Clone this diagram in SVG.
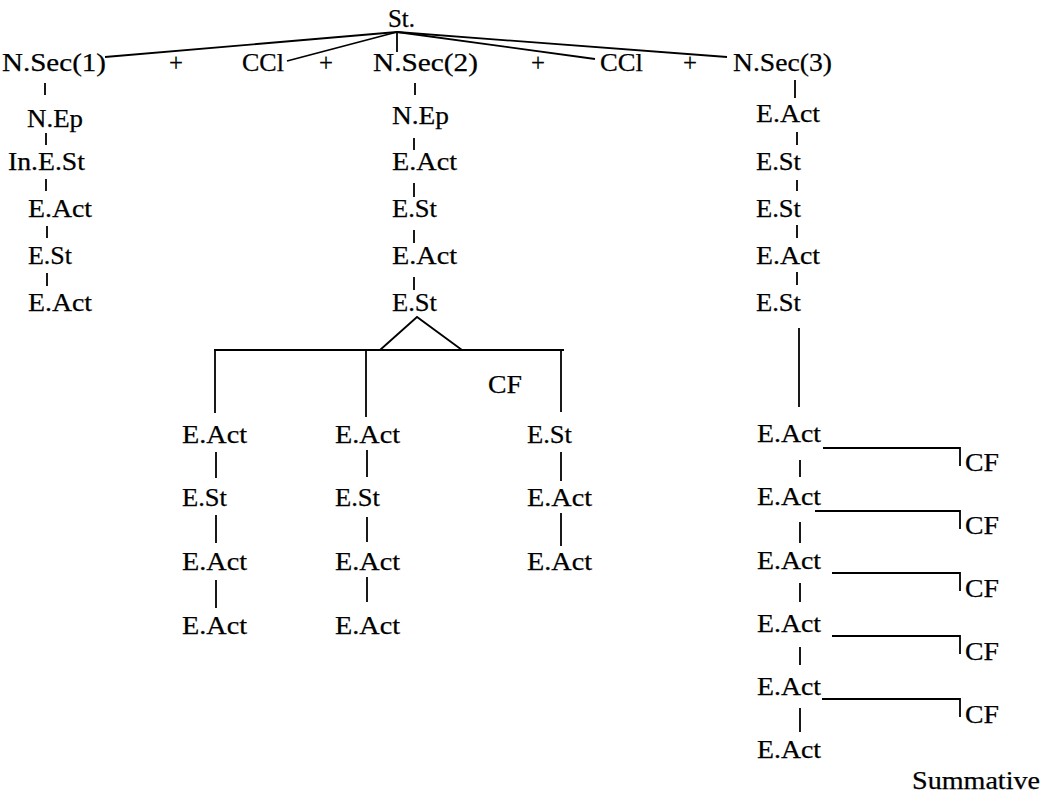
<svg xmlns="http://www.w3.org/2000/svg" width="1045" height="796" viewBox="0 0 1045 796">
<style>
.t{font-family:"Liberation Serif","Times New Roman",serif;font-size:26px;fill:#000;stroke:#000;stroke-width:0.25}
.c line,.c polyline{stroke:#000;stroke-width:1.8;fill:none}
</style>
<rect width="1045" height="796" fill="#fff"/>
<g class="c" id="connectors">
<line x1="397" y1="32" x2="105" y2="57"/>
<line x1="397" y1="32" x2="287" y2="61"/>
<line x1="397" y1="32" x2="397" y2="52"/>
<line x1="397" y1="32" x2="595" y2="59"/>
<line x1="397" y1="32" x2="727" y2="57"/>
<line x1="45" y1="83" x2="45" y2="95"/>
<line x1="415" y1="83" x2="415" y2="95"/>
<line x1="795" y1="80" x2="795" y2="98"/>
<line x1="46" y1="133" x2="46" y2="145"/>
<line x1="46" y1="179" x2="46" y2="191"/>
<line x1="47" y1="226" x2="47" y2="238"/>
<line x1="47" y1="273" x2="47" y2="286"/>
<line x1="414" y1="138" x2="414" y2="150"/>
<line x1="414" y1="183" x2="414" y2="197"/>
<line x1="414" y1="230" x2="414" y2="243"/>
<line x1="414" y1="277" x2="414" y2="290"/>
<line x1="797" y1="132" x2="797" y2="145"/>
<line x1="797" y1="180" x2="797" y2="191"/>
<line x1="797" y1="225" x2="797" y2="238"/>
<line x1="797" y1="272" x2="797" y2="285"/>
<line x1="799" y1="328" x2="799" y2="407"/>
<polyline points="380,350 417,317 462,350"/>
<line x1="214" y1="350" x2="564" y2="350"/>
<line x1="215" y1="350" x2="215" y2="413"/>
<line x1="366" y1="350" x2="366" y2="417"/>
<line x1="561" y1="350" x2="561" y2="412"/>
<line x1="216" y1="452" x2="216" y2="478"/>
<line x1="216" y1="515" x2="216" y2="543"/>
<line x1="216" y1="580" x2="216" y2="608"/>
<line x1="367" y1="450" x2="367" y2="477"/>
<line x1="367" y1="517" x2="367" y2="542"/>
<line x1="367" y1="577" x2="367" y2="602"/>
<line x1="561" y1="452" x2="561" y2="481"/>
<line x1="561" y1="513" x2="561" y2="546"/>
<line x1="800" y1="460" x2="800" y2="477"/>
<line x1="800" y1="522" x2="800" y2="543"/>
<line x1="800" y1="583" x2="800" y2="602"/>
<line x1="800" y1="647" x2="800" y2="665"/>
<line x1="800" y1="708" x2="800" y2="732"/>
<polyline points="823,448 960,448 960,466"/>
<polyline points="815,511 960,511 960,529"/>
<polyline points="832,573 960,573 960,591"/>
<polyline points="832,636 960,636 960,654"/>
<polyline points="822,699 960,699 960,717"/>
</g>
<g id="st"><text class="t" x="388" y="27" textLength="27" lengthAdjust="spacingAndGlyphs">St.</text></g>
<g id="nsec1"><text class="t" x="2" y="71" textLength="104" lengthAdjust="spacingAndGlyphs">N.Sec(1)</text></g>
<g id="plus1"><text class="t" x="169" y="71" textLength="14" lengthAdjust="spacingAndGlyphs">+</text></g>
<g id="ccl1"><text class="t" x="242" y="71" textLength="42" lengthAdjust="spacingAndGlyphs">CCl</text></g>
<g id="plus2"><text class="t" x="319" y="71" textLength="14" lengthAdjust="spacingAndGlyphs">+</text></g>
<g id="nsec2"><text class="t" x="373" y="71" textLength="105" lengthAdjust="spacingAndGlyphs">N.Sec(2)</text></g>
<g id="plus3"><text class="t" x="531" y="71" textLength="14" lengthAdjust="spacingAndGlyphs">+</text></g>
<g id="ccl2"><text class="t" x="600" y="71" textLength="43" lengthAdjust="spacingAndGlyphs">CCl</text></g>
<g id="plus4"><text class="t" x="683" y="71" textLength="14" lengthAdjust="spacingAndGlyphs">+</text></g>
<g id="nsec3"><text class="t" x="733" y="71" textLength="99" lengthAdjust="spacingAndGlyphs">N.Sec(3)</text></g>
<g id="c1n1"><text class="t" x="27" y="127" textLength="56" lengthAdjust="spacingAndGlyphs">N.Ep</text></g>
<g id="c1n2"><text class="t" x="8" y="170" textLength="77" lengthAdjust="spacingAndGlyphs">In.E.St</text></g>
<g id="c1n3"><text class="t" x="28" y="217" textLength="64" lengthAdjust="spacingAndGlyphs">E.Act</text></g>
<g id="c1n4"><text class="t" x="28" y="264" textLength="44" lengthAdjust="spacingAndGlyphs">E.St</text></g>
<g id="c1n5"><text class="t" x="28" y="311" textLength="64" lengthAdjust="spacingAndGlyphs">E.Act</text></g>
<g id="c2n1"><text class="t" x="392" y="124" textLength="57" lengthAdjust="spacingAndGlyphs">N.Ep</text></g>
<g id="c2n2"><text class="t" x="392" y="170" textLength="65" lengthAdjust="spacingAndGlyphs">E.Act</text></g>
<g id="c2n3"><text class="t" x="392" y="217" textLength="45" lengthAdjust="spacingAndGlyphs">E.St</text></g>
<g id="c2n4"><text class="t" x="392" y="264" textLength="65" lengthAdjust="spacingAndGlyphs">E.Act</text></g>
<g id="c2n5"><text class="t" x="392" y="311" textLength="45" lengthAdjust="spacingAndGlyphs">E.St</text></g>
<g id="c3n1"><text class="t" x="756" y="122" textLength="64" lengthAdjust="spacingAndGlyphs">E.Act</text></g>
<g id="c3n2"><text class="t" x="756" y="170" textLength="45" lengthAdjust="spacingAndGlyphs">E.St</text></g>
<g id="c3n3"><text class="t" x="756" y="217" textLength="45" lengthAdjust="spacingAndGlyphs">E.St</text></g>
<g id="c3n4"><text class="t" x="756" y="264" textLength="64" lengthAdjust="spacingAndGlyphs">E.Act</text></g>
<g id="c3n5"><text class="t" x="756" y="311" textLength="45" lengthAdjust="spacingAndGlyphs">E.St</text></g>
<g id="cfmid"><text class="t" x="488" y="393" textLength="34" lengthAdjust="spacingAndGlyphs">CF</text></g>
<g id="sa1"><text class="t" x="182" y="443" textLength="65" lengthAdjust="spacingAndGlyphs">E.Act</text></g>
<g id="sa2"><text class="t" x="182" y="506" textLength="45" lengthAdjust="spacingAndGlyphs">E.St</text></g>
<g id="sa3"><text class="t" x="182" y="570" textLength="65" lengthAdjust="spacingAndGlyphs">E.Act</text></g>
<g id="sa4"><text class="t" x="182" y="634" textLength="65" lengthAdjust="spacingAndGlyphs">E.Act</text></g>
<g id="sb1"><text class="t" x="335" y="443" textLength="65" lengthAdjust="spacingAndGlyphs">E.Act</text></g>
<g id="sb2"><text class="t" x="335" y="506" textLength="45" lengthAdjust="spacingAndGlyphs">E.St</text></g>
<g id="sb3"><text class="t" x="335" y="570" textLength="65" lengthAdjust="spacingAndGlyphs">E.Act</text></g>
<g id="sb4"><text class="t" x="335" y="634" textLength="65" lengthAdjust="spacingAndGlyphs">E.Act</text></g>
<g id="sc1"><text class="t" x="527" y="443" textLength="45" lengthAdjust="spacingAndGlyphs">E.St</text></g>
<g id="sc2"><text class="t" x="527" y="506" textLength="65" lengthAdjust="spacingAndGlyphs">E.Act</text></g>
<g id="sc3"><text class="t" x="527" y="570" textLength="65" lengthAdjust="spacingAndGlyphs">E.Act</text></g>
<g id="d1"><text class="t" x="757" y="442" textLength="64" lengthAdjust="spacingAndGlyphs">E.Act</text></g>
<g id="d2"><text class="t" x="757" y="505" textLength="64" lengthAdjust="spacingAndGlyphs">E.Act</text></g>
<g id="d3"><text class="t" x="757" y="569" textLength="64" lengthAdjust="spacingAndGlyphs">E.Act</text></g>
<g id="d4"><text class="t" x="757" y="632" textLength="64" lengthAdjust="spacingAndGlyphs">E.Act</text></g>
<g id="d5"><text class="t" x="757" y="695" textLength="64" lengthAdjust="spacingAndGlyphs">E.Act</text></g>
<g id="d6"><text class="t" x="757" y="758" textLength="64" lengthAdjust="spacingAndGlyphs">E.Act</text></g>
<g id="cf1"><text class="t" x="965" y="471" textLength="34" lengthAdjust="spacingAndGlyphs">CF</text></g>
<g id="cf2"><text class="t" x="965" y="534" textLength="34" lengthAdjust="spacingAndGlyphs">CF</text></g>
<g id="cf3"><text class="t" x="965" y="597" textLength="34" lengthAdjust="spacingAndGlyphs">CF</text></g>
<g id="cf4"><text class="t" x="965" y="660" textLength="34" lengthAdjust="spacingAndGlyphs">CF</text></g>
<g id="cf5"><text class="t" x="965" y="723" textLength="34" lengthAdjust="spacingAndGlyphs">CF</text></g>
<g id="summative"><text class="t" x="912" y="789" textLength="128" lengthAdjust="spacingAndGlyphs">Summative</text></g>
</svg>
